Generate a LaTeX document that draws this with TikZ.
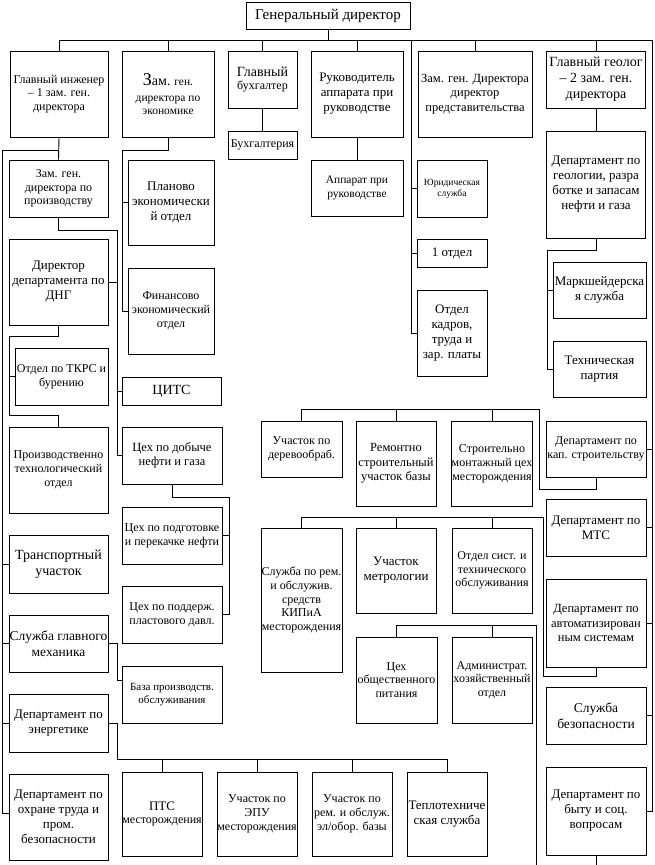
\documentclass[tikz,border=0pt]{standalone}
\usepackage{fontspec}
\setmainfont{Liberation Serif}
\newcommand\fsz[1]{\fontsize{#1}{\fpeval{#1*1.15}}\selectfont}
\begin{document}
\begin{tikzpicture}[x=1pt,y=-1pt,
  box/.style={draw,line width=0.9pt,inner sep=0pt,align=center},
  fs/.style={font=\fsz{#1}},
  ln/.style={line width=0.9pt}]
\useasboundingbox (0,0) rectangle (654,865);
\fill[white] (0,0) rectangle (654,865);
% top row
\node[box,fs=15,minimum width=164pt,minimum height=27pt] (gd) at (328,15.5) {Генеральный директор};
\node[box,fs=12,minimum width=98pt,minimum height=86pt] (gi) at (59,94) {Главный инженер\\– 1 зам. ген.\\директора};
\node[box,fs=11.5,minimum width=92pt,minimum height=86pt] (ze) at (168,94) {{\fontsize{18}{18}\selectfont З}{\fontsize{14}{14}\selectfont ам.} ген.\\[3pt]директора по\\экономике};
\node[box,fs=12,minimum width=69pt,minimum height=57pt] (gb) at (262.5,79.5) {{\fontsize{14}{16}\selectfont Главный}\\бухгалтер};
\node[box,fs=13,minimum width=92pt,minimum height=86pt] (ra) at (357,94) {Руководитель\\аппарата при\\руководстве};
\node[box,fs=12.5,minimum width=114pt,minimum height=86pt] (zp) at (475,94) {Зам. ген. Директора\\директор\\представительства};
\node[box,fs=14,minimum width=99pt,minimum height=57pt] (gg) at (596,79.5) {Главный геолог\\– 2 зам. ген.\\директора};
% second level
\node[box,fs=12,minimum width=69pt,minimum height=28pt] (bu) at (262.5,145) {Бухгалтерия};
\node[box,fs=11.5,minimum width=92pt,minimum height=56pt] (ap) at (357,188) {Аппарат при\\руководстве};
\node[box,fs=9.5,minimum width=70pt,minimum height=57pt] (yu) at (452,188.5) {Юридическая\\служба};
\node[box,fs=13,minimum width=70pt,minimum height=28pt] (o1) at (452,253) {1 отдел};
\node[box,fs=13,minimum width=70pt,minimum height=86pt] (ok) at (452,333) {Отдел\\кадров,\\труда и\\зар. платы};
\node[box,fs=13,minimum width=99pt,minimum height=107pt] (dg) at (596,184.5) {Департамент по\\геологии, разра\\ботке и запасам\\нефти и газа};
\node[box,fs=13,minimum width=93pt,minimum height=56pt] (mk) at (599.5,290) {Маркшейдерска\\я служба};
\node[box,fs=13,minimum width=93pt,minimum height=56pt] (tp) at (599.5,369) {Техническая\\партия};
% left column
\node[box,fs=12,minimum width=99pt,minimum height=57pt] (zpr) at (58.5,188.5) {Зам. ген.\\директора по\\производству};
\node[box,fs=13,minimum width=99pt,minimum height=86pt] (dng) at (58.5,282) {Директор\\департамента по\\ДНГ};
\node[box,fs=12,minimum width=93pt,minimum height=57pt] (tkrs) at (61.5,376.5) {Отдел по ТКРС и\\бурению};
\node[box,fs=12,minimum width=99pt,minimum height=86pt] (pto) at (58.5,470) {Производственно\\технологический\\отдел};
\node[box,fs=14,minimum width=99pt,minimum height=58pt] (tu) at (58.5,564) {Транспортный\\участок};
\node[box,fs=13.5,minimum width=99pt,minimum height=57pt] (sgm) at (58.5,643.5) {Служба главного\\механика};
\node[box,fs=13,minimum width=99pt,minimum height=58pt] (den) at (58.5,723) {Департамент по\\энергетике};
\node[box,fs=13,minimum width=99pt,minimum height=86pt] (dot) at (58.5,817) {Департамент по\\охране труда и\\пром.\\безопасности};
% second column
\node[box,fs=13,minimum width=86pt,minimum height=85pt] (pe) at (171,202.5) {Планово\\экономически\\й отдел};
\node[box,fs=12,minimum width=86pt,minimum height=86pt] (fe) at (171,311) {Финансово\\экономический\\отдел};
\node[box,fs=14,minimum width=99pt,minimum height=28pt] (cits) at (171.5,391) {ЦИТС};
\node[box,fs=12.5,minimum width=100pt,minimum height=57pt] (cd) at (172,455.5) {Цех по добыче\\нефти и газа};
\node[box,fs=12,minimum width=100pt,minimum height=57pt] (cp) at (172,535.5) {Цех по подготовке\\и перекачке нефти};
\node[box,fs=12,minimum width=100pt,minimum height=57pt] (cpd) at (172,614.5) {Цех по поддерж.\\пластового давл.};
\node[box,fs=11,minimum width=100pt,minimum height=57pt] (bpo) at (172,694.5) {База производств.\\обслуживания};
% bottom row
\node[box,fs=12,minimum width=80pt,minimum height=84pt] (pts) at (162,814) {{\fontsize{13}{14}\selectfont ПТС}\\месторождения};
\node[box,fs=12,minimum width=80pt,minimum height=84pt] (epu) at (257,814) {Участок по\\ЭПУ\\месторождения};
\node[box,fs=12,minimum width=80pt,minimum height=84pt] (rem) at (352,814) {Участок по\\рем. и обслуж.\\эл/обор. базы};
\node[box,fs=13,minimum width=80pt,minimum height=84pt] (tep) at (447,814) {Теплотехниче\\ская служба};
% middle section
\node[box,fs=12,minimum width=81pt,minimum height=56pt] (ud) at (301.5,449) {Участок по\\деревообраб.};
\node[box,fs=12.5,minimum width=80pt,minimum height=85pt] (rsu) at (396,463.5) {Ремонтно\\строительный\\участок базы};
\node[box,fs=12,minimum width=80pt,minimum height=85pt] (smc) at (492,463.5) {Строительно\\монтажный цех\\месторождения};
\node[box,fs=12,minimum width=81pt,minimum height=144pt] (kip) at (301.5,600) {Служба по рем.\\и обслужив.\\средств\\КИПиА\\месторождения};
\node[box,fs=13,minimum width=80pt,minimum height=85pt] (met) at (396,570.5) {Участок\\метрологии};
\node[box,fs=12,minimum width=80pt,minimum height=85pt] (osto) at (492,570.5) {Отдел сист. и\\технического\\обслуживания};
\node[box,fs=12,minimum width=81pt,minimum height=86pt] (cop) at (396.5,680) {Цех\\общественного\\питания};
\node[box,fs=12,minimum width=80pt,minimum height=86pt] (aho) at (492,680) {Администрат.\\хозяйственный\\отдел};
% right column
\node[box,fs=12,minimum width=100pt,minimum height=56pt] (dks) at (596,449) {Департамент по\\кап. строительству};
\node[box,fs=13,minimum width=100pt,minimum height=57pt] (mts) at (596,527.5) {Департамент по\\МТС};
\node[box,fs=12.5,minimum width=100pt,minimum height=88pt] (das) at (596,623) {Департамент по\\автоматизирован\\ным системам};
\node[box,fs=13.5,minimum width=100pt,minimum height=57pt] (sb) at (596,715.5) {Служба\\безопасности};
\node[box,fs=13,minimum width=100pt,minimum height=88pt] (db) at (596,811) {Департамент по\\быту и соц.\\вопросам};
% ---------- connectors ----------
\coordinate (R) at (652,40);
\coordinate (L4) at (411,40);
\draw[ln] (gd.south) -- (gd.south |- R);
\draw[ln] (gi.north) -- (gi.north |- R) -- (R) -- (R |- db.east) -- (db.east);
\foreach \n in {ze,gb,ra,zp,gg} \draw[ln] (\n.north) -- (\n.north |- R);
\foreach \n in {dks,mts,das,sb} \draw[ln] (\n.east) -- (\n.east -| R);
\draw[ln] (L4) -- (L4 |- ok.west) -- (ok.west);
\foreach \n in {yu,o1} \draw[ln] (\n.west) -- (\n.west -| L4);
\draw[ln] (gb.south) -- (bu.north);
\draw[ln] (ra.south) -- (ap.north);
\draw[ln] (gg.south) -- (dg.north);
% geology
\coordinate (G) at (547,250);
\draw[ln] (dg.south) -- (dg.south |- G) -- (G) -- (G |- tp.west) -- (tp.west);
\draw[ln] (mk.west) -- (mk.west -| G);
% left bus
\coordinate (L0) at (2,150);
\draw[ln] (gi.south) -- (zpr.north);
\draw[ln] (gi.south |- L0) -- (L0) -- (2,813) -- (dot.west |- 0,813);
\foreach \n in {tu,sgm,den} \draw[ln] (\n.west) -- (\n.west -| L0);
% production
\coordinate (L1) at (117,230);
\draw[ln] (zpr.south) -- (zpr.south |- L1) -- (L1) -- (L1 |- cd.west) -- (cd.west);
\draw[ln] (dng.east) -- (dng.east -| L1);
\draw[ln] (cits.west) -- (cits.west -| L1);
% DNG
\coordinate (L2) at (9,336);
\draw[ln] (dng.south) -- (dng.south |- L2) -- (L2) -- (9,415) -- (pto.north |- 0,415) -- (pto.north);
\draw[ln] (tkrs.west) -- (tkrs.west -| L2);
% economics
\coordinate (L3) at (122,150);
\draw[ln] (ze.south) -- (ze.south |- L3) -- (L3) -- (L3 |- fe.west) -- (fe.west);
\draw[ln] (pe.west) -- (pe.west -| L3);
% oil production
\coordinate (L5) at (229,497);
\draw[ln] (cd.south) -- (cd.south |- L5) -- (L5) -- (L5 |- cpd.east) -- (cpd.east);
\draw[ln] (cp.east) -- (cp.east -| L5);
% mechanic
\draw[ln] (sgm.east) -- (sgm.east -| 117,0) |- (bpo.west |- 0,680);
% energy
\coordinate (B) at (117,759);
\draw[ln] (den.east) -- (den.east -| B) -- (B) -- (tep.north |- B) -- (tep.north);
\foreach \n in {pts,epu,rem} \draw[ln] (\n.north) -- (\n.north |- B);
% capital construction
\coordinate (M1) at (539,409);
\draw[ln] (dks.south) -- ++(0,12) -| (M1) -| (ud.north);
\foreach \n in {rsu,smc} \draw[ln] (\n.north) -- (\n.north |- M1);
% automation
\coordinate (M2) at (543,517);
\draw[ln] (das.south) -- ++(0,9) -| (M2) -| (kip.north);
\foreach \n in {met,osto} \draw[ln] (\n.north) -- (\n.north |- M2);
% catering
\coordinate (M3) at (536,625);
\coordinate (M3b) at (536,865);
\draw[ln] (M3b) -- (M3) -| (cop.north);
\draw[ln] (aho.north) -- (aho.north |- M3);
\coordinate (DBb) at (596,865);
\draw[ln] (db.south) -- (DBb);
\end{tikzpicture}
\end{document}
